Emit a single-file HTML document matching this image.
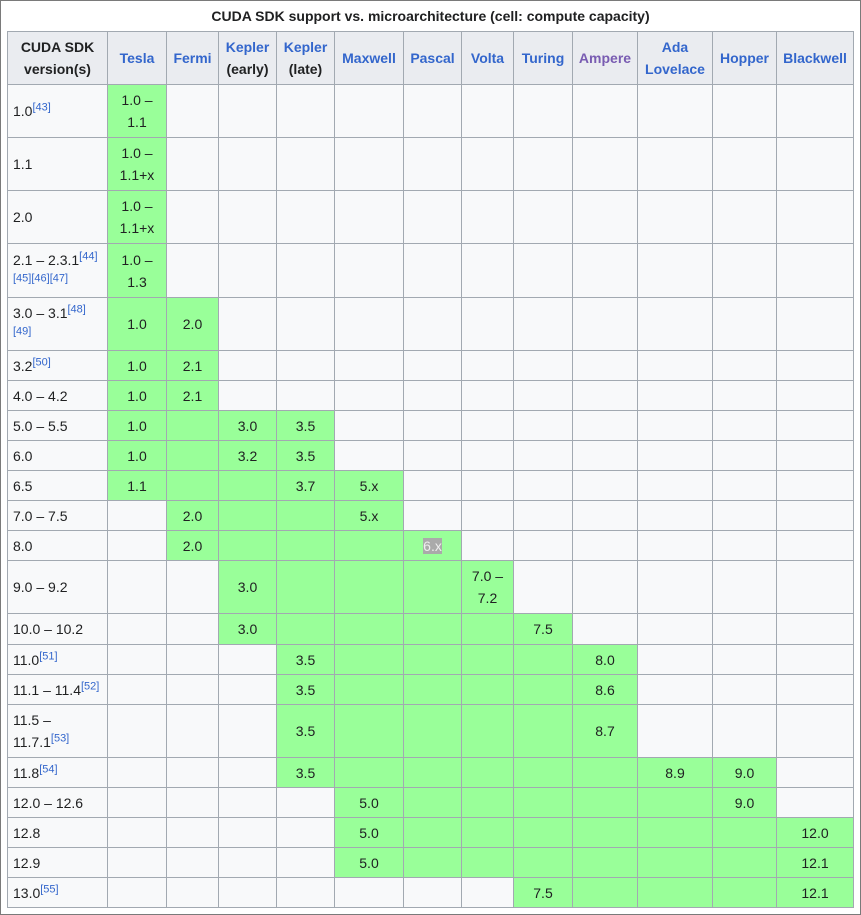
<!DOCTYPE html>
<html><head><meta charset="utf-8"><style>
html,body{margin:0;padding:0;background:#fff;}
body{width:861px;height:915px;position:relative;overflow:hidden;font-family:"Liberation Sans",sans-serif;color:#202122;}
.frame{position:absolute;left:0;top:0;width:859px;height:913px;border:1px solid #7a7a7a;}
.cap{position:absolute;left:0;top:8px;width:861px;text-align:center;font-weight:bold;font-size:14px;}
table{position:absolute;left:7px;top:31px;border-collapse:collapse;table-layout:fixed;width:847px;font-size:14px;line-height:22px;background:#f8f9fa;}
td,th{border:1px solid #a2a9b1;padding:0 5px;text-align:center;overflow:visible;}
th{background:#eaecf0;font-weight:bold;}
th a{color:#3366cc;}
th a.v{color:#795cb2;}
td:first-child{text-align:left;}
.g{background:#9f9;}
sup{font-size:11px;line-height:0;color:#3366cc;vertical-align:super;}
.h6{background:#aaa;color:#eee;}
</style></head><body>
<div class="frame"></div>
<div class="cap">CUDA SDK support vs. microarchitecture (cell: compute capacity)</div>
<table>
<colgroup><col style="width:100px"><col style="width:59px"><col style="width:52px"><col style="width:58px"><col style="width:58px"><col style="width:69px"><col style="width:58px"><col style="width:52px"><col style="width:59px"><col style="width:65px"><col style="width:75px"><col style="width:64px"><col style="width:77px"></colgroup>
<tr style="height:53px"><th>CUDA SDK version(s)</th><th><a>Tesla</a></th><th><a>Fermi</a></th><th><a>Kepler</a><br>(early)</th><th><a>Kepler</a><br>(late)</th><th><a>Maxwell</a></th><th><a>Pascal</a></th><th><a>Volta</a></th><th><a>Turing</a></th><th><a class="v">Ampere</a></th><th><a>Ada Lovelace</a></th><th><a>Hopper</a></th><th><a>Blackwell</a></th></tr>
<tr style="height:53px"><td>1.0<sup>[43]</sup></td><td class="g">1.0 –<br>1.1</td><td></td><td></td><td></td><td></td><td></td><td></td><td></td><td></td><td></td><td></td><td></td></tr>
<tr style="height:53px"><td>1.1</td><td class="g">1.0 –<br>1.1+x</td><td></td><td></td><td></td><td></td><td></td><td></td><td></td><td></td><td></td><td></td><td></td></tr>
<tr style="height:53px"><td>2.0</td><td class="g">1.0 –<br>1.1+x</td><td></td><td></td><td></td><td></td><td></td><td></td><td></td><td></td><td></td><td></td><td></td></tr>
<tr style="height:54px"><td>2.1 – 2.3.1<sup>[44]</sup><br><sup>[45][46][47]</sup></td><td class="g">1.0 –<br>1.3</td><td></td><td></td><td></td><td></td><td></td><td></td><td></td><td></td><td></td><td></td><td></td></tr>
<tr style="height:53px"><td>3.0 – 3.1<sup>[48]</sup><br><sup>[49]</sup></td><td class="g">1.0</td><td class="g">2.0</td><td></td><td></td><td></td><td></td><td></td><td></td><td></td><td></td><td></td><td></td></tr>
<tr style="height:30px"><td>3.2<sup>[50]</sup></td><td class="g">1.0</td><td class="g">2.1</td><td></td><td></td><td></td><td></td><td></td><td></td><td></td><td></td><td></td><td></td></tr>
<tr style="height:30px"><td>4.0 – 4.2</td><td class="g">1.0</td><td class="g">2.1</td><td></td><td></td><td></td><td></td><td></td><td></td><td></td><td></td><td></td><td></td></tr>
<tr style="height:30px"><td>5.0 – 5.5</td><td class="g">1.0</td><td class="g"></td><td class="g">3.0</td><td class="g">3.5</td><td></td><td></td><td></td><td></td><td></td><td></td><td></td><td></td></tr>
<tr style="height:30px"><td>6.0</td><td class="g">1.0</td><td class="g"></td><td class="g">3.2</td><td class="g">3.5</td><td></td><td></td><td></td><td></td><td></td><td></td><td></td><td></td></tr>
<tr style="height:30px"><td>6.5</td><td class="g">1.1</td><td class="g"></td><td class="g"></td><td class="g">3.7</td><td class="g">5.x</td><td></td><td></td><td></td><td></td><td></td><td></td><td></td></tr>
<tr style="height:30px"><td>7.0 – 7.5</td><td></td><td class="g">2.0</td><td class="g"></td><td class="g"></td><td class="g">5.x</td><td></td><td></td><td></td><td></td><td></td><td></td><td></td></tr>
<tr style="height:30px"><td>8.0</td><td></td><td class="g">2.0</td><td class="g"></td><td class="g"></td><td class="g"></td><td class="g"><span class="h6">6.x</span></td><td></td><td></td><td></td><td></td><td></td><td></td></tr>
<tr style="height:53px"><td>9.0 – 9.2</td><td></td><td></td><td class="g">3.0</td><td class="g"></td><td class="g"></td><td class="g"></td><td class="g">7.0 –<br>7.2</td><td></td><td></td><td></td><td></td><td></td></tr>
<tr style="height:31px"><td>10.0 – 10.2</td><td></td><td></td><td class="g">3.0</td><td class="g"></td><td class="g"></td><td class="g"></td><td class="g"></td><td class="g">7.5</td><td></td><td></td><td></td><td></td></tr>
<tr style="height:30px"><td>11.0<sup>[51]</sup></td><td></td><td></td><td></td><td class="g">3.5</td><td class="g"></td><td class="g"></td><td class="g"></td><td class="g"></td><td class="g">8.0</td><td></td><td></td><td></td></tr>
<tr style="height:30px"><td>11.1 – 11.4<sup>[52]</sup></td><td></td><td></td><td></td><td class="g">3.5</td><td class="g"></td><td class="g"></td><td class="g"></td><td class="g"></td><td class="g">8.6</td><td></td><td></td><td></td></tr>
<tr style="height:53px"><td>11.5 –<br>11.7.1<sup>[53]</sup></td><td></td><td></td><td></td><td class="g">3.5</td><td class="g"></td><td class="g"></td><td class="g"></td><td class="g"></td><td class="g">8.7</td><td></td><td></td><td></td></tr>
<tr style="height:30px"><td>11.8<sup>[54]</sup></td><td></td><td></td><td></td><td class="g">3.5</td><td class="g"></td><td class="g"></td><td class="g"></td><td class="g"></td><td class="g"></td><td class="g">8.9</td><td class="g">9.0</td><td></td></tr>
<tr style="height:30px"><td>12.0 – 12.6</td><td></td><td></td><td></td><td></td><td class="g">5.0</td><td class="g"></td><td class="g"></td><td class="g"></td><td class="g"></td><td class="g"></td><td class="g">9.0</td><td></td></tr>
<tr style="height:30px"><td>12.8</td><td></td><td></td><td></td><td></td><td class="g">5.0</td><td class="g"></td><td class="g"></td><td class="g"></td><td class="g"></td><td class="g"></td><td class="g"></td><td class="g">12.0</td></tr>
<tr style="height:30px"><td>12.9</td><td></td><td></td><td></td><td></td><td class="g">5.0</td><td class="g"></td><td class="g"></td><td class="g"></td><td class="g"></td><td class="g"></td><td class="g"></td><td class="g">12.1</td></tr>
<tr style="height:30px"><td>13.0<sup>[55]</sup></td><td></td><td></td><td></td><td></td><td></td><td></td><td></td><td class="g">7.5</td><td class="g"></td><td class="g"></td><td class="g"></td><td class="g">12.1</td></tr>
</table>
</body></html>
